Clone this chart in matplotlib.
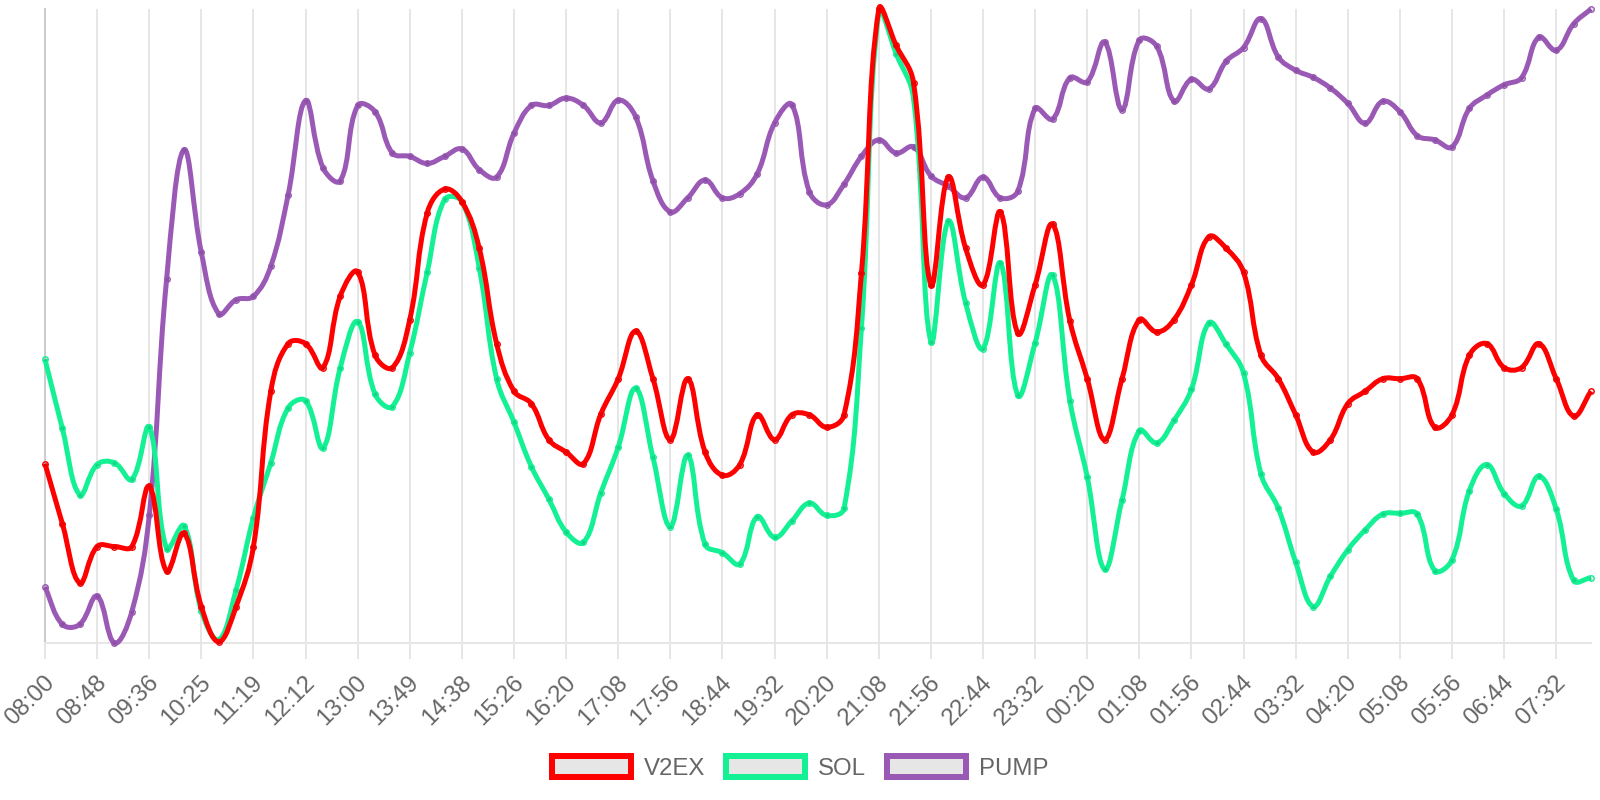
import numpy as np
import matplotlib.pyplot as plt
from matplotlib.path import Path
from matplotlib.patches import PathPatch, Patch
from matplotlib.transforms import ScaledTranslation

plt.rcParams["font.family"] = ["Liberation Sans", "DejaVu Sans"]

# one label for every third sample (90 samples, ~16 min apart)
tick_labels = [
    "08:00", "08:48", "09:36", "10:25", "11:19", "12:12", "13:00", "13:49",
    "14:38", "15:26", "16:20", "17:08", "17:56", "18:44", "19:32", "20:20",
    "21:08", "21:56", "22:44", "23:32", "00:20", "01:08", "01:56", "02:44",
    "03:32", "04:20", "05:08", "05:56", "06:44", "07:32",
]

v2ex = [
    46.0, 31.5, 17.2, 26.0, 26.0, 26.0, 40.5, 20.0, 29.2, 11.5,
    3.0, 11.5, 26.0, 63.5, 75.0, 75.0, 69.2, 86.5, 92.3, 72.2,
    69.2, 80.8, 106.5, 112.3, 109.3, 98.0, 75.0, 63.5, 60.5, 51.8,
    48.8, 46.0, 58.0, 66.5, 78.0, 66.5, 51.8, 66.5, 48.8, 43.2,
    45.8, 57.8, 51.8, 57.8, 57.8, 54.8, 57.8, 92.0, 155.8, 147.0,
    138.0, 89.2, 115.2, 98.0, 89.2, 106.8, 77.5, 89.2, 103.8, 80.5,
    66.5, 51.8, 66.5, 80.8, 77.8, 80.8, 89.2, 100.8, 98.0, 92.2,
    72.2, 66.5, 57.8, 48.8, 51.8, 60.5, 63.5, 66.5, 66.5, 66.5,
    54.8, 57.8, 72.2, 75.0, 69.2, 69.2, 75.0, 66.5, 57.5, 63.5,
]

sol = [
    71.2, 54.5, 38.5, 45.8, 46.2, 42.2, 54.8, 25.5, 31.0, 10.5,
    3.5, 15.5, 33.0, 46.2, 59.5, 61.2, 49.8, 69.2, 80.3, 62.8,
    59.8, 72.8, 92.2, 109.8, 109.3, 93.2, 66.5, 56.0, 45.3, 37.5,
    29.5, 27.0, 39.0, 50.0, 64.2, 47.5, 30.8, 48.0, 26.5, 24.5,
    21.8, 33.2, 28.2, 32.2, 36.5, 33.5, 35.2, 78.8, 155.0, 145.0,
    134.2, 75.5, 104.5, 84.8, 73.8, 94.5, 62.5, 75.2, 91.5, 61.2,
    42.8, 20.5, 37.2, 54.0, 51.0, 56.5, 64.0, 80.0, 74.8, 67.8,
    43.5, 35.2, 22.2, 11.5, 18.8, 25.2, 30.0, 33.8, 34.0, 33.8,
    20.2, 22.8, 39.5, 45.8, 38.8, 35.8, 43.0, 35.0, 17.8, 18.5,
]

pump = [
    16.2, 7.2, 7.2, 14.0, 2.7, 10.3, 33.5, 90.5, 121.8, 97.0,
    82.2, 85.6, 86.4, 93.7, 111.0, 133.7, 117.5, 114.3, 132.5, 131.0,
    121.0, 120.2, 118.5, 120.2, 122.0, 117.0, 115.2, 125.8, 132.5, 132.5,
    134.3, 132.5, 128.3, 133.8, 129.8, 114.3, 106.8, 110.2, 114.5, 110.2,
    111.2, 116.0, 128.3, 132.7, 111.7, 108.5, 113.5, 120.2, 124.2, 121.0,
    122.5, 115.5, 113.0, 110.2, 115.2, 110.2, 111.8, 131.8, 129.2, 139.2,
    138.2, 147.8, 131.5, 148.3, 146.8, 133.5, 138.8, 136.5, 143.2, 146.5,
    153.5, 144.2, 141.0, 139.3, 136.7, 133.0, 128.2, 133.5, 131.0, 125.2,
    124.2, 122.5, 131.8, 135.0, 137.5, 139.2, 149.0, 145.8, 152.2, 155.8,
]

series = [("V2EX", v2ex, "#ff0000"), ("SOL", sol, "#14f195"), ("PUMP", pump, "#9b59b6")]

W, H, DPI = 1600, 800, 100
PX = 72.0 / DPI  # points per pixel


def spline_path(x, y, sx, sy, tension=0.4):
    """Bezier path through the points, same control-point rule as chart.js."""
    px = np.asarray(x, float) * sx
    py = np.asarray(y, float) * sy
    n = len(px)
    cp_in = np.zeros((n, 2))
    cp_out = np.zeros((n, 2))
    for i in range(n):
        p0 = (px[max(i - 1, 0)], py[max(i - 1, 0)])
        p2 = (px[min(i + 1, n - 1)], py[min(i + 1, n - 1)])
        d01 = np.hypot(px[i] - p0[0], py[i] - p0[1])
        d12 = np.hypot(p2[0] - px[i], p2[1] - py[i])
        tot = d01 + d12
        s01 = d01 / tot if tot else 0.0
        s12 = d12 / tot if tot else 0.0
        dx, dy = p2[0] - p0[0], p2[1] - p0[1]
        cp_in[i] = (px[i] - tension * s01 * dx, py[i] - tension * s01 * dy)
        cp_out[i] = (px[i] + tension * s12 * dx, py[i] + tension * s12 * dy)
    verts = [(px[0], py[0])]
    codes = [Path.MOVETO]
    for i in range(n - 1):
        verts += [tuple(cp_out[i]), tuple(cp_in[i + 1]), (px[i + 1], py[i + 1])]
        codes += [Path.CURVE4] * 3
    verts = np.array(verts)
    verts[:, 0] /= sx
    verts[:, 1] /= sy
    return Path(verts, codes)


fig = plt.figure(figsize=(W / DPI, H / DPI), dpi=DPI)
left, right, top, bottom = 45, 1591, 9, 643
ax = fig.add_axes([left / W, 1 - bottom / H, (right - left) / W, (bottom - top) / H])

n = len(v2ex)
xs = np.arange(n)
all_vals = np.concatenate([v2ex, sol, pump])
ymin, ymax = all_vals.min(), all_vals.max()
ax.set_xlim(0, n - 1)
ax.set_ylim(ymin, ymax)

sx = (right - left) / (n - 1)
sy = (bottom - top) / (ymax - ymin)

for k, (name, vals, color) in enumerate(series):
    z = 10 - k
    path = spline_path(xs, vals, sx, sy)
    ax.add_patch(PathPatch(path, fill=False, edgecolor=color, lw=5 * PX,
                           capstyle="butt", joinstyle="round", zorder=z, clip_on=False))
    ax.plot(xs, vals, "o", ms=5.5 * PX, mfc=(0, 0, 0, 0.1), mec=color, mew=1.4 * PX,
            zorder=z + 0.5, clip_on=False)

ax.set_xticks(xs[::3])
ax.set_xticklabels(tick_labels, rotation=45, ha="right", va="center",
                   rotation_mode="anchor", color="#666666", fontsize=24 * PX)
ax.tick_params(axis="x", length=16 * PX, width=2 * PX, color="#e6e6e6", pad=8 * PX)
for lbl in ax.get_xticklabels():
    lbl.set_transform(lbl.get_transform() + ScaledTranslation(6 / DPI, -12 / DPI, fig.dpi_scale_trans))
ax.set_yticks([])
ax.grid(axis="x", color="#e6e6e6", lw=2 * PX)
ax.set_axisbelow(True)
for side in ("top", "right"):
    ax.spines[side].set_visible(False)
ax.spines["left"].set_color("#cccccc")
ax.spines["left"].set_linewidth(2 * PX)
ax.spines["bottom"].set_color("#e6e6e6")
ax.spines["bottom"].set_linewidth(2 * PX)

handles = [Patch(facecolor="#e6e6e6", edgecolor=c, lw=6 * PX, label=name) for name, _, c in series]
fs = 24 * PX
fig.legend(handles=handles, loc="center", bbox_to_anchor=(0.5, 1 - 768 / H), ncol=3,
           frameon=False, fontsize=fs, handlelength=79 / 24, handleheight=23 / 24,
           handletextpad=13 / 24, columnspacing=21 / 24, labelcolor="#666666",
           borderaxespad=0, borderpad=0)

fig.savefig("out.png", dpi=DPI)
